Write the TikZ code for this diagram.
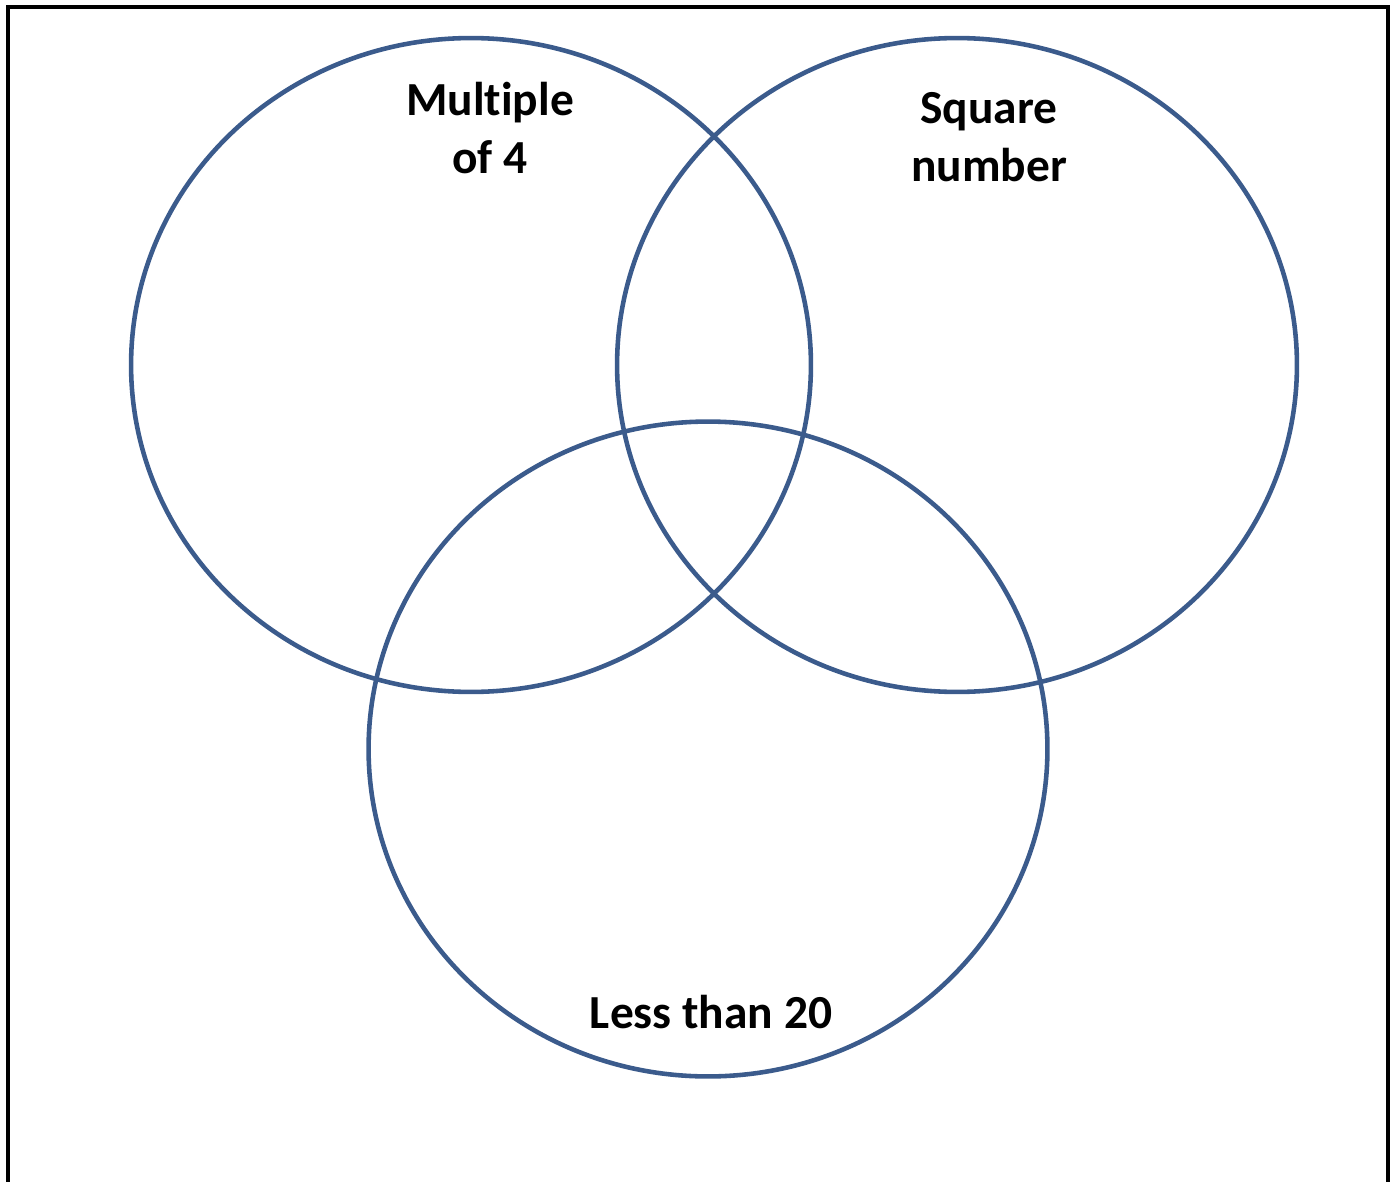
\documentclass[tikz,border=0pt]{standalone}
\usepackage{fontspec}
\setmainfont[Ligatures=NoCommon]{Carlito}
\usepackage{xcolor}
\usepackage{tikz}
\definecolor{vennblue}{RGB}{59,91,140}

\begin{document}
\begin{tikzpicture}[x=0.02cm,y=-0.02cm,
  frame/.style={line width=2.6pt,black},
  set/.style={line width=2.6pt,vennblue},
  setlabel/.style={font=\fontsize{27}{33}\selectfont\bfseries,align=center,inner sep=0pt}]
  \useasboundingbox (0,0) rectangle (1395,1182);
  % outer frame, open at the bottom
  \draw[frame] (8,1200) -- (8,7) -- (1388,7) -- (1388,1200);
  % the three sets
  \coordinate (M4) at (471,365);
  \coordinate (SQ) at (957,365);
  \coordinate (LT) at (708,749);
  \draw[set] (M4) ellipse [x radius=6.8cm, y radius=6.54cm];
  \draw[set] (SQ) ellipse [x radius=6.8cm, y radius=6.54cm];
  \draw[set] (LT) ellipse [x radius=6.79cm, y radius=6.55cm];
  \node[setlabel] (m4label) at (490,128) {Multiple\\of 4};
  \node[setlabel] (sqlabel) at (989,137) {Square\\number};
  \node[setlabel] (ltlabel) at (711,1012) {Less than 20};
\end{tikzpicture}
\end{document}
